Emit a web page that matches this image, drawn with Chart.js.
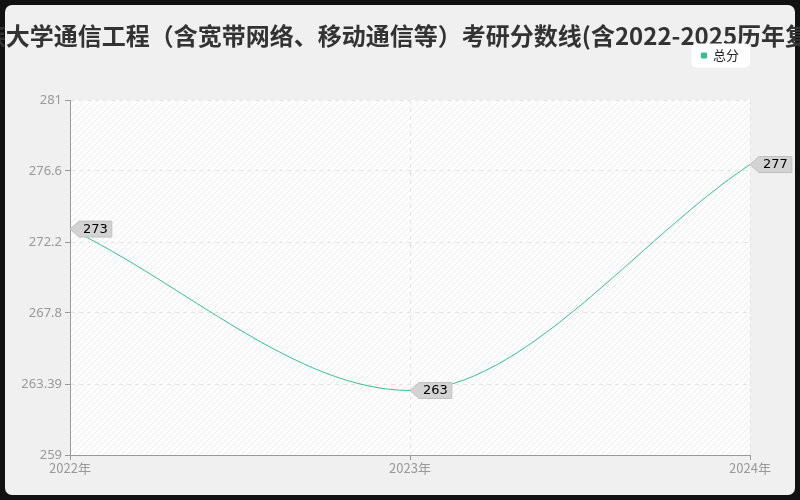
<!DOCTYPE html>
<html>
<head>
<meta charset="utf-8">
<script src="https://cdn.jsdelivr.net/npm/chart.js@4/dist/chart.umd.min.js"></script>
<style>
  html, body { margin: 0; padding: 0; background: #111; }
  #wrap { position: relative; width: 800px; height: 500px; }
  #panel { position: absolute; left: 5px; top: 5px; width: 790px; height: 490px; background: #f0f0f0; border-radius: 7px; }
  #chart { position: absolute; left: 0; top: 0; }
</style>
</head>
<body>
<div id="wrap">
  <div id="panel"></div>
  <canvas id="chart" width="800" height="500"></canvas>
</div>
<script>
const titleText = '民族大学通信工程（含宽带网络、移动通信等）考研分数线(含2022-2025历年复试)';
const years = ['2022年', '2023年', '2024年'];
const totalScores = [273, 263, 277];
const yTicks = [259, 263.39, 267.8, 272.2, 276.6, 281];

const lineColor = '#36c08e';

// diagonal hatch behind the plot area
function makeHatch() {
  const c = document.createElement('canvas');
  c.width = 6; c.height = 6;
  const g = c.getContext('2d');
  g.fillStyle = '#ffffff';
  g.fillRect(0, 0, 6, 6);
  g.strokeStyle = '#ececec';
  g.lineWidth = 1;
  g.beginPath();
  g.moveTo(0, 6); g.lineTo(6, 0);
  g.moveTo(-1, 1); g.lineTo(1, -1);
  g.moveTo(5, 7); g.lineTo(7, 5);
  g.stroke();
  return c;
}

const backdrop = {
  id: 'backdrop',
  beforeLayout(chart) {
    // leave some air between the legend and the plot
    const lg = chart.legend;
    if (lg && !lg._spaced) {
      const fit = lg.fit;
      lg.fit = function () { fit.call(this); this.height += 28; };
      lg._spaced = true;
    }
  },
  beforeDraw(chart) {
    const { ctx, chartArea: a } = chart;
    ctx.save();
    ctx.fillStyle = ctx.createPattern(makeHatch(), 'repeat');
    ctx.fillRect(a.left, a.top, a.right - a.left, a.bottom - a.top);

    // the title is wider than the canvas and simply runs off both edges
    ctx.font = 'bold 24px "Noto Sans CJK SC", sans-serif';
    ctx.fillStyle = '#333';
    ctx.textAlign = 'center';
    ctx.textBaseline = 'middle';
    ctx.fillText(titleText, chart.width / 2, 36);

    // legend box
    const boxes = chart.legend.legendHitBoxes;
    if (boxes && boxes.length) {
      const b = boxes[0];
      const cy = b.top + b.height / 2;
      ctx.fillStyle = '#ffffff';
      ctx.beginPath();
      ctx.roundRect(b.left - 10, cy - 12, b.width + 21, 24, 5);
      ctx.fill();
    }
    ctx.restore();
  }
};

const valueTags = {
  id: 'valueTags',
  afterDatasetsDraw(chart) {
    const { ctx } = chart;
    const meta = chart.getDatasetMeta(0);
    ctx.save();
    ctx.font = '13px "DejaVu Sans", sans-serif';
    ctx.textBaseline = 'middle';
    meta.data.forEach((pt, i) => {
      const txt = String(totalScores[i]);
      const w = ctx.measureText(txt).width + 5;
      const x = pt.x, y = pt.y;
      ctx.beginPath();
      ctx.moveTo(x, y);
      ctx.lineTo(x + 9, y - 8);
      ctx.lineTo(x + 12 + w, y - 8);
      ctx.lineTo(x + 12 + w, y + 8);
      ctx.lineTo(x + 9, y + 8);
      ctx.closePath();
      ctx.fillStyle = '#d3d3d3';
      ctx.fill();
      ctx.strokeStyle = '#c0c0c0';
      ctx.lineWidth = 1;
      ctx.stroke();
      ctx.fillStyle = '#000';
      ctx.fillText(txt, x + 13, y + 0.5);
    });
    ctx.restore();
  }
};

new Chart(document.getElementById('chart'), {
  type: 'line',
  data: {
    labels: years,
    datasets: [{
      label: '总分',
      data: totalScores,
      borderColor: lineColor,
      backgroundColor: lineColor,
      borderWidth: 1,
      cubicInterpolationMode: 'monotone',
      pointRadius: 0,
      fill: false
    }]
  },
  options: {
    responsive: false,
    animation: false,
    layout: { padding: { left: 5, right: 50, top: 38, bottom: 10 } },
    plugins: {
      title: { display: false },
      legend: {
        position: 'top',
        align: 'end',
        labels: {
          boxWidth: 5,
          boxHeight: 5,
          color: '#222',
          font: { family: '"Noto Sans CJK SC", sans-serif', size: 13 },
          padding: 11
        }
      },
      tooltip: { enabled: false }
    },
    scales: {
      x: {
        offset: false,
        afterFit(s) { s.height = 35; },
        grid: { color: '#e4e4e4', tickColor: '#999', tickLength: 5, drawOnChartArea: true },
        border: { color: '#999', dash: [4, 4] },
        ticks: { color: '#999', font: { family: '"Noto Sans CJK SC", sans-serif', size: 13 }, padding: 0, maxRotation: 0 }
      },
      y: {
        min: 259,
        max: 281,
        afterFit(s) { s.width = 65; },
        afterBuildTicks(s) { s.ticks = yTicks.map(v => ({ value: v })); },
        grid: { color: '#e4e4e4', tickColor: '#999', tickLength: 5 },
        border: { color: '#999', dash: [4, 4] },
        ticks: {
          color: '#999',
          font: { family: '"Noto Sans", sans-serif', size: 13 },
          padding: 3,
          callback: v => String(v)
        }
      }
    }
  },
  plugins: [backdrop, valueTags]
});
</script>
</body>
</html>
